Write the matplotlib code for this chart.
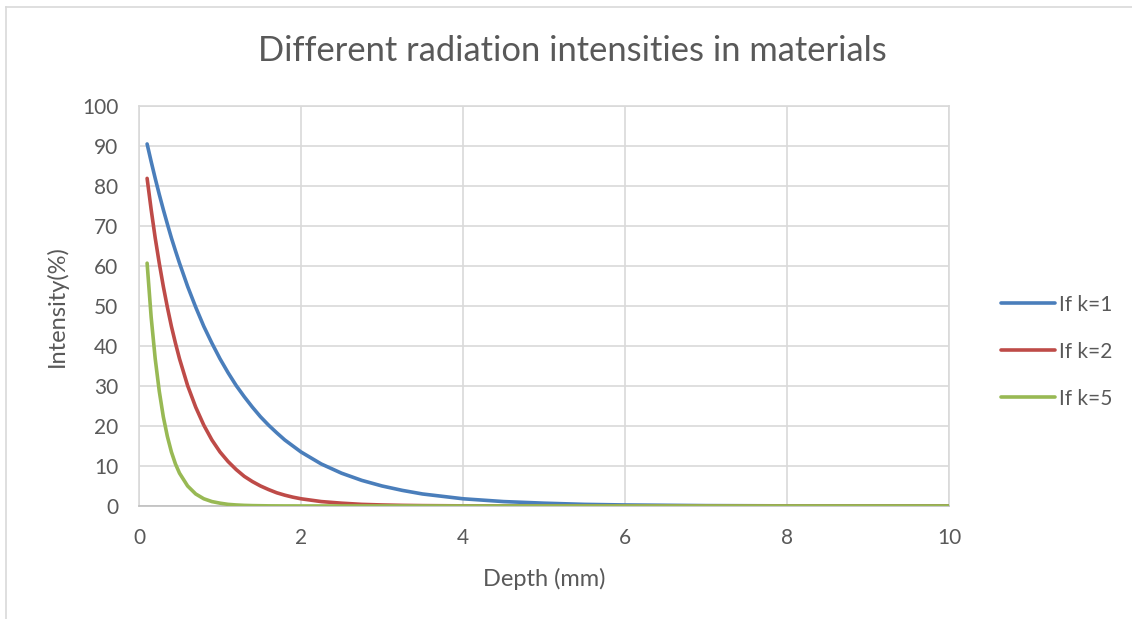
import numpy as np
import matplotlib.pyplot as plt
from matplotlib.lines import Line2D

plt.rcParams['font.family'] = ['Lato', 'DejaVu Sans']

# Depth (mm) and intensities (%)
depth = [0.1, 0.15, 0.2, 0.25, 0.3, 0.35, 0.4, 0.45, 0.5, 0.6, 0.7, 0.8, 0.9, 1.0,
         1.1, 1.2, 1.3, 1.4, 1.5, 1.6, 1.7, 1.8, 1.9, 2.0, 2.25, 2.5, 2.75, 3.0,
         3.25, 3.5, 3.75, 4.0, 4.5, 5.0, 5.5, 6.0, 7.0, 8.0, 9.0, 10.0]
k1 = [90.5, 86.1, 81.9, 77.9, 74.1, 70.5, 67.0, 63.8, 60.7, 54.9, 49.7, 44.9, 40.7, 36.8,
      33.3, 30.1, 27.3, 24.7, 22.3, 20.2, 18.3, 16.5, 15.0, 13.5, 10.5, 8.2, 6.4, 5.0,
      3.9, 3.0, 2.4, 1.8, 1.1, 0.7, 0.4, 0.25, 0.09, 0.03, 0.01, 0.0]
k2 = [81.9, 74.1, 67.0, 60.7, 54.9, 49.7, 44.9, 40.7, 36.8, 30.1, 24.7, 20.2, 16.5, 13.5,
      11.1, 9.1, 7.4, 6.1, 5.0, 4.1, 3.3, 2.7, 2.2, 1.8, 1.1, 0.7, 0.4, 0.25,
      0.15, 0.09, 0.06, 0.03, 0.01, 0.0, 0.0, 0.0, 0.0, 0.0, 0.0, 0.0]
k5 = [60.7, 47.2, 36.8, 28.7, 22.3, 17.4, 13.5, 10.5, 8.2, 5.0, 3.0, 1.8, 1.1, 0.7,
      0.4, 0.25, 0.15, 0.09, 0.06, 0.03, 0.02, 0.01, 0.01, 0.0, 0.0, 0.0, 0.0, 0.0,
      0.0, 0.0, 0.0, 0.0, 0.0, 0.0, 0.0, 0.0, 0.0, 0.0, 0.0, 0.0]

labels = ['If k=1', 'If k=2', 'If k=5']
colors = ['#4a7ebb', '#be4b48', '#98b954']

fig = plt.figure(figsize=(11.32, 6.19), dpi=100)
ax = fig.add_axes([0.1228, 0.1826, 0.7155, 0.6462])

for y, lab, c in zip([k1, k2, k5], labels, colors):
    ax.plot(depth, y, color=c, lw=2.6, label=lab, solid_capstyle='round', zorder=3)

ax.set_xlim(0, 10)
ax.set_ylim(0, 100)
ax.set_xticks(np.arange(0, 11, 2))
ax.set_yticks(np.arange(0, 101, 10))
ax.grid(True, color='#d9d9d9', lw=1.2)
ax.set_axisbelow(True)
for s in ax.spines.values():
    s.set_color('#d9d9d9')
    s.set_linewidth(1.2)
ax.spines['bottom'].set_color('#bfbfbf')
ax.tick_params(length=0, labelsize=15, colors='#595959')
ax.tick_params(axis='y', pad=15)
ax.tick_params(axis='x', pad=16)

ax.set_xlabel('Depth (mm)', fontsize=17, color='#595959', labelpad=14)
ax.set_ylabel('Intensity(%)', fontsize=17, color='#595959', labelpad=10)
fig.text(0.506, 0.918, 'Different radiation intensities in materials',
         ha='center', va='center', fontsize=24.8, color='#595959')

fig.legend(loc='center left', bbox_to_anchor=(0.868, 0.432), frameon=False,
           fontsize=15, labelcolor='#595959', handlelength=2.6, handletextpad=0.15,
           labelspacing=1.3)

# outer chart border
fig.add_artist(Line2D([0.0053, 0.0053], [0, 0.989], color='#d9d9d9', lw=1.2))
fig.add_artist(Line2D([0.0053, 1.0], [0.989, 0.989], color='#d9d9d9', lw=1.2))

fig.savefig('out.png', dpi=100)
